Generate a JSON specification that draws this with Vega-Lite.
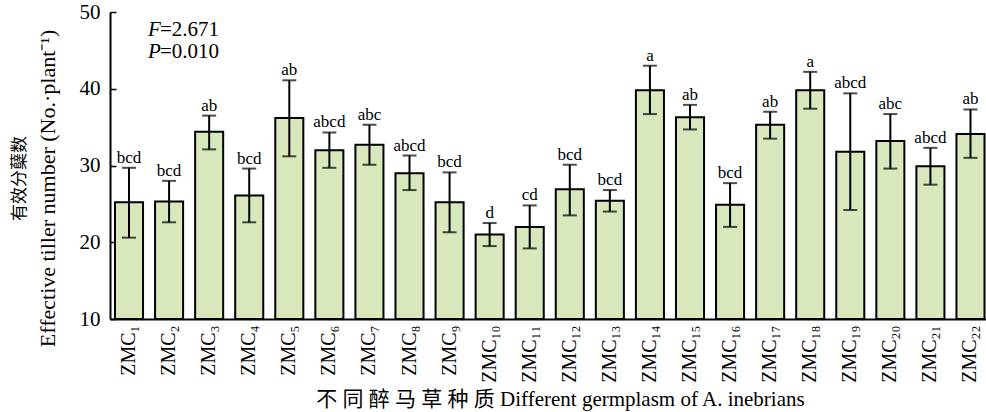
{
  "$schema": "https://vega.github.io/schema/vega-lite/v6.json",
  "width": 876,
  "height": 307,
  "autosize": {"type": "none"},
  "padding": {"left": 110, "top": 12, "right": 0, "bottom": 93},
  "background": "white",
  "config": {
    "view": {"stroke": null},
    "font": "Liberation Serif, Noto Sans CJK SC",
    "axis": {
      "grid": false,
      "domainColor": "black",
      "domainWidth": 2,
      "tickColor": "black",
      "tickWidth": 1.5,
      "labelColor": "black",
      "titleColor": "black",
      "labelFont": "Liberation Serif, Noto Sans CJK SC",
      "titleFont": "Liberation Serif, Noto Sans CJK SC",
      "titleFontWeight": "normal"
    }
  },
  "datasets": {
    "tillers": [
      {"germplasm": "ZMC₁", "mean": 25.2, "lower": 20.6, "upper": 29.7, "group": "bcd"},
      {"germplasm": "ZMC₂", "mean": 25.3, "lower": 22.6, "upper": 28.0, "group": "bcd"},
      {"germplasm": "ZMC₃", "mean": 34.4, "lower": 32.1, "upper": 36.5, "group": "ab"},
      {"germplasm": "ZMC₄", "mean": 26.1, "lower": 22.6, "upper": 29.6, "group": "bcd"},
      {"germplasm": "ZMC₅", "mean": 36.2, "lower": 31.2, "upper": 41.1, "group": "ab"},
      {"germplasm": "ZMC₆", "mean": 32.0, "lower": 29.7, "upper": 34.3, "group": "abcd"},
      {"germplasm": "ZMC₇", "mean": 32.7, "lower": 30.1, "upper": 35.3, "group": "abc"},
      {"germplasm": "ZMC₈", "mean": 29.0, "lower": 26.8, "upper": 31.3, "group": "abcd"},
      {"germplasm": "ZMC₉", "mean": 25.2, "lower": 21.3, "upper": 29.1, "group": "bcd"},
      {"germplasm": "ZMC₁₀", "mean": 21.0, "lower": 19.5, "upper": 22.5, "group": "d"},
      {"germplasm": "ZMC₁₁", "mean": 22.0, "lower": 19.2, "upper": 24.8, "group": "cd"},
      {"germplasm": "ZMC₁₂", "mean": 26.9, "lower": 23.5, "upper": 30.1, "group": "bcd"},
      {"germplasm": "ZMC₁₃", "mean": 25.4, "lower": 24.0, "upper": 26.8, "group": "bcd"},
      {"germplasm": "ZMC₁₄", "mean": 39.8, "lower": 36.7, "upper": 43.0, "group": "a"},
      {"germplasm": "ZMC₁₅", "mean": 36.3, "lower": 34.7, "upper": 37.9, "group": "ab"},
      {"germplasm": "ZMC₁₆", "mean": 24.9, "lower": 22.0, "upper": 27.7, "group": "bcd"},
      {"germplasm": "ZMC₁₇", "mean": 35.3, "lower": 33.5, "upper": 37.0, "group": "ab"},
      {"germplasm": "ZMC₁₈", "mean": 39.8, "lower": 37.4, "upper": 42.2, "group": "a"},
      {"germplasm": "ZMC₁₉", "mean": 31.8, "lower": 24.2, "upper": 39.4, "group": "abcd"},
      {"germplasm": "ZMC₂₀", "mean": 33.2, "lower": 29.6, "upper": 36.7, "group": "abc"},
      {"germplasm": "ZMC₂₁", "mean": 29.9, "lower": 27.5, "upper": 32.3, "group": "abcd"},
      {"germplasm": "ZMC₂₂", "mean": 34.1, "lower": 31.0, "upper": 37.3, "group": "ab"}
    ],
    "anova": [
      {"symbol": "F", "result": "=2.671", "level": 46.9},
      {"symbol": "P", "result": "=0.010", "level": 44.0}
    ]
  },
  "data": {"name": "tillers"},
  "resolve": {"axis": {"y": "independent"}},
  "encoding": {
    "x": {
      "field": "germplasm",
      "type": "nominal",
      "sort": null,
      "scale": {"paddingInner": 0.3, "paddingOuter": 0.081, "align": 0.77},
      "axis": {
        "title": "不 同 醉 马 草 种 质 Different germplasm of A. inebrians",
        "titleFontSize": 21,
        "titlePadding": 6,
        "titleX": 450,
        "labelAngle": -90,
        "labelFontSize": 20,
        "labelPadding": 12,
        "tickSize": -6
      }
    }
  },
  "layer": [
    {
      "mark": {"type": "bar", "fill": "#d8e7bc", "stroke": "black", "strokeWidth": 2},
      "encoding": {
        "y": {
          "field": "mean",
          "type": "quantitative",
          "scale": {"domain": [10, 50], "zero": false, "nice": false},
          "axis": {
            "orient": "left",
            "values": [10, 20, 30, 40, 50],
            "title": "Effective tiller number (No.·plant⁻¹)",
            "titleFontSize": 22,
            "titlePadding": 20,
            "titleY": 176,
            "labelFontSize": 21,
            "labelPadding": 16,
            "tickSize": -6
          }
        },
        "y2": {"datum": 10}
      }
    },
    {
      "mark": {"type": "rule", "color": "black", "strokeWidth": 2},
      "encoding": {
        "y": {
          "field": "lower",
          "type": "quantitative",
          "axis": {
            "orient": "left",
            "title": "有效分蘖数",
            "titleFontSize": 17,
            "offset": 76,
            "titlePadding": 6,
            "titleY": 166,
            "labels": false,
            "ticks": false,
            "domain": false
          }
        },
        "y2": {"field": "upper"}
      }
    },
    {
      "mark": {"type": "tick", "color": "black", "size": 14, "thickness": 2},
      "encoding": {"y": {"field": "lower", "type": "quantitative", "axis": null}}
    },
    {
      "mark": {"type": "tick", "color": "black", "size": 14, "thickness": 2},
      "encoding": {"y": {"field": "upper", "type": "quantitative", "axis": null}}
    },
    {
      "mark": {"type": "text", "fontSize": 17, "baseline": "alphabetic", "dy": -5, "color": "black"},
      "encoding": {
        "y": {"field": "upper", "type": "quantitative", "axis": null},
        "text": {"field": "group"}
      }
    },
    {
      "data": {"name": "anova"},
      "mark": {"type": "text", "fontSize": 21, "fontStyle": "italic", "align": "left", "baseline": "alphabetic", "dx": 19, "color": "black"},
      "encoding": {
        "x": {"datum": "ZMC₁"},
        "y": {"field": "level", "type": "quantitative", "axis": null},
        "text": {"field": "symbol"}
      }
    },
    {
      "data": {"name": "anova"},
      "mark": {"type": "text", "fontSize": 21, "align": "left", "baseline": "alphabetic", "dx": 31, "color": "black"},
      "encoding": {
        "x": {"datum": "ZMC₁"},
        "y": {"field": "level", "type": "quantitative", "axis": null},
        "text": {"field": "result"}
      }
    }
  ]
}
